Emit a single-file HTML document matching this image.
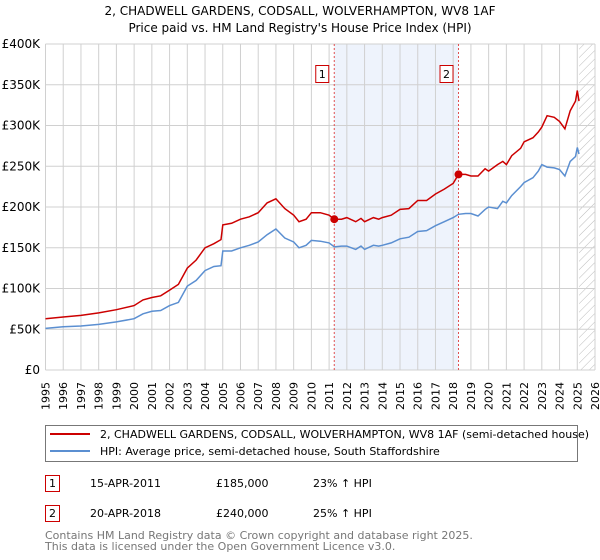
<!DOCTYPE html>
<html><head><meta charset="utf-8"><style>
body{margin:0;background:#fff;font-family:"DejaVu Sans","Liberation Sans",sans-serif;}
svg{display:block}
</style></head><body>
<svg width="600" height="560" xmlns="http://www.w3.org/2000/svg" font-family="DejaVu Sans, Liberation Sans, sans-serif">
<text x="300" y="15" text-anchor="middle" font-size="12">2, CHADWELL GARDENS, CODSALL, WOLVERHAMPTON, WV8 1AF</text>
<text x="300" y="32" text-anchor="middle" font-size="12">Price paid vs. HM Land Registry's House Price Index (HPI)</text>
<g id="plot"></g>
<g>
<rect x="45.5" y="425.5" width="532" height="36" fill="#fff" stroke="#777"/>
<line x1="50" y1="434" x2="90" y2="434" stroke="#cc0000" stroke-width="2"/>
<text x="100" y="438" font-size="11">2, CHADWELL GARDENS, CODSALL, WOLVERHAMPTON, WV8 1AF (semi-detached house)</text>
<line x1="50" y1="451" x2="90" y2="451" stroke="#5b8fd1" stroke-width="2"/>
<text x="100" y="455" font-size="11">HPI: Average price, semi-detached house, South Staffordshire</text>
</g>
<g font-size="11">
<rect x="45.5" y="475.5" width="14" height="16" fill="#fff" stroke="#cc0000"/><text x="52.5" y="487" text-anchor="middle">1</text>
<text x="90" y="487">15-APR-2011</text><text x="216" y="487">£185,000</text><text x="313" y="487">23% ↑ HPI</text>
<rect x="45.5" y="505.5" width="14" height="16" fill="#fff" stroke="#cc0000"/><text x="52.5" y="517" text-anchor="middle">2</text>
<text x="90" y="517">20-APR-2018</text><text x="216" y="517">£240,000</text><text x="313" y="517">25% ↑ HPI</text>
</g>
<text x="45" y="539" font-size="11" fill="#777">Contains HM Land Registry data © Crown copyright and database right 2025.</text>
<text x="45" y="550" font-size="11" fill="#777">This data is licensed under the Open Government Licence v3.0.</text>
</svg>
<script>
const redX=[1995,1996,1997,1998,1999,2000,2000.5,2001,2001.5,2002,2002.5,2003,2003.5,2004,2004.5,2004.9,2005,2005.5,2006,2006.5,2007,2007.5,2008,2008.5,2009,2009.3,2009.7,2010,2010.5,2011,2011.29,2011.7,2012,2012.5,2012.8,2013,2013.5,2013.8,2014,2014.5,2015,2015.5,2016,2016.5,2017,2017.5,2018,2018.3,2018.7,2019,2019.4,2019.8,2020,2020.5,2020.8,2021,2021.3,2021.8,2022,2022.5,2022.8,2023,2023.3,2023.7,2024,2024.3,2024.6,2024.9,2025.0,2025.1];
const redY=[63,65,67,70,74,79,86,89,91,98,105,125,135,150,155,160,178,180,185,188,193,205,210,198,190,182,185,193,193,190,185,185,187,182,186,182,187,185,187,190,197,198,208,208,216,222,229,240,240,238,238,247,244,252,256,252,263,272,280,285,292,298,312,310,305,296,318,330,343,330];
const hpiY=[51,53,54,56,59,63,69,72,73,79,83,103,110,122,127,128,146,146,150,153,157,166,173,162,157,150,153,159,158,156,151,152,152,148,152,148,153,152,153,156,161,163,170,171,177,182,187,191,192,192,189,197,200,198,207,205,214,225,230,236,244,252,249,248,246,238,256,262,273,265];
const saleX=[2011.29,2018.3];
const saleY=[185,240];
const yTicks=[0,50,100,150,200,250,300,350,400];
const yLabels=["£0","£50K","£100K","£150K","£200K","£250K","£300K","£350K","£400K"];
const years=[1995,1996,1997,1998,1999,2000,2001,2002,2003,2004,2005,2006,2007,2008,2009,2010,2011,2012,2013,2014,2015,2016,2017,2018,2019,2020,2021,2022,2023,2024,2025,2026];
const X0=45.5,X1=595,Y0=370,Y1=44;
const sx=t=>X0+(t-1995)/31*(X1-X0);
const sy=v=>Y0-v/400*(Y0-Y1);
const NS="http://www.w3.org/2000/svg";
const g=document.getElementById('plot');
function mk(tag,attrs,parent){const e=document.createElementNS(NS,tag);for(const k in attrs)e.setAttribute(k,attrs[k]);(parent||g).appendChild(e);return e;}
let sh=mk('rect',{x:sx(saleX[0]),y:Y1,width:sx(saleX[1])-sx(saleX[0]),height:Y0-Y1,fill:'#eef3fc'});


const defs=mk('defs',{});
const pat=mk('pattern',{id:'h',width:6,height:6,patternUnits:'userSpaceOnUse',patternTransform:'rotate(45)'},defs);
mk('line',{x1:0,y1:0,x2:0,y2:6,stroke:'#bbb','stroke-width':1},pat);
let ht=mk('rect',{x:sx(2025.1),y:Y1,width:X1-sx(2025.1),height:Y0-Y1,fill:'url(#h)'});


years.forEach(y=>{let l=mk('line',{x1:sx(y),x2:sx(y),y1:Y1,y2:Y0,stroke:'#d0d0d0'});


let t=mk('text',{x:0,y:0,'font-size':11,'text-anchor':'end',transform:`translate(${sx(y)+4},${Y0+12}) rotate(-90)`});
t.textContent=y;

});
yTicks.forEach((v,i)=>{let l=mk('line',{x1:X0,x2:X1,y1:sy(v),y2:sy(v),stroke:'#d0d0d0'});


let t=mk('text',{x:40,y:sy(v)+4,'font-size':12,'text-anchor':'end'});
t.textContent=yLabels[i];

});
saleX.forEach((x,i)=>{let l=mk('line',{x1:sx(x),x2:sx(x),y1:Y1,y2:Y0,stroke:'#e05050','stroke-dasharray':'2,2'});


let r=mk('rect',{x:sx(x)-18.5,y:65.5,width:13,height:17,fill:'#fff',stroke:'#cc0000'});


let t=mk('text',{x:sx(x)-12,y:78,'font-size':11,'text-anchor':'middle'});
t.textContent=i+1;

});
const pts=(xs,ys)=>xs.map((x,i)=>sx(x).toFixed(1)+','+sy(ys[i]).toFixed(1)).join(' ');
let hl=mk('polyline',{points:pts(redX,hpiY),fill:'none',stroke:'#5b8fd1','stroke-width':1.5});


let rl=mk('polyline',{points:pts(redX,redY),fill:'none',stroke:'#cc0000','stroke-width':1.5});


saleX.forEach((x,i)=>{let c=mk('circle',{cx:sx(x),cy:sy(saleY[i]),r:4,fill:'#cc0000'});

});
</script>
</body></html>
